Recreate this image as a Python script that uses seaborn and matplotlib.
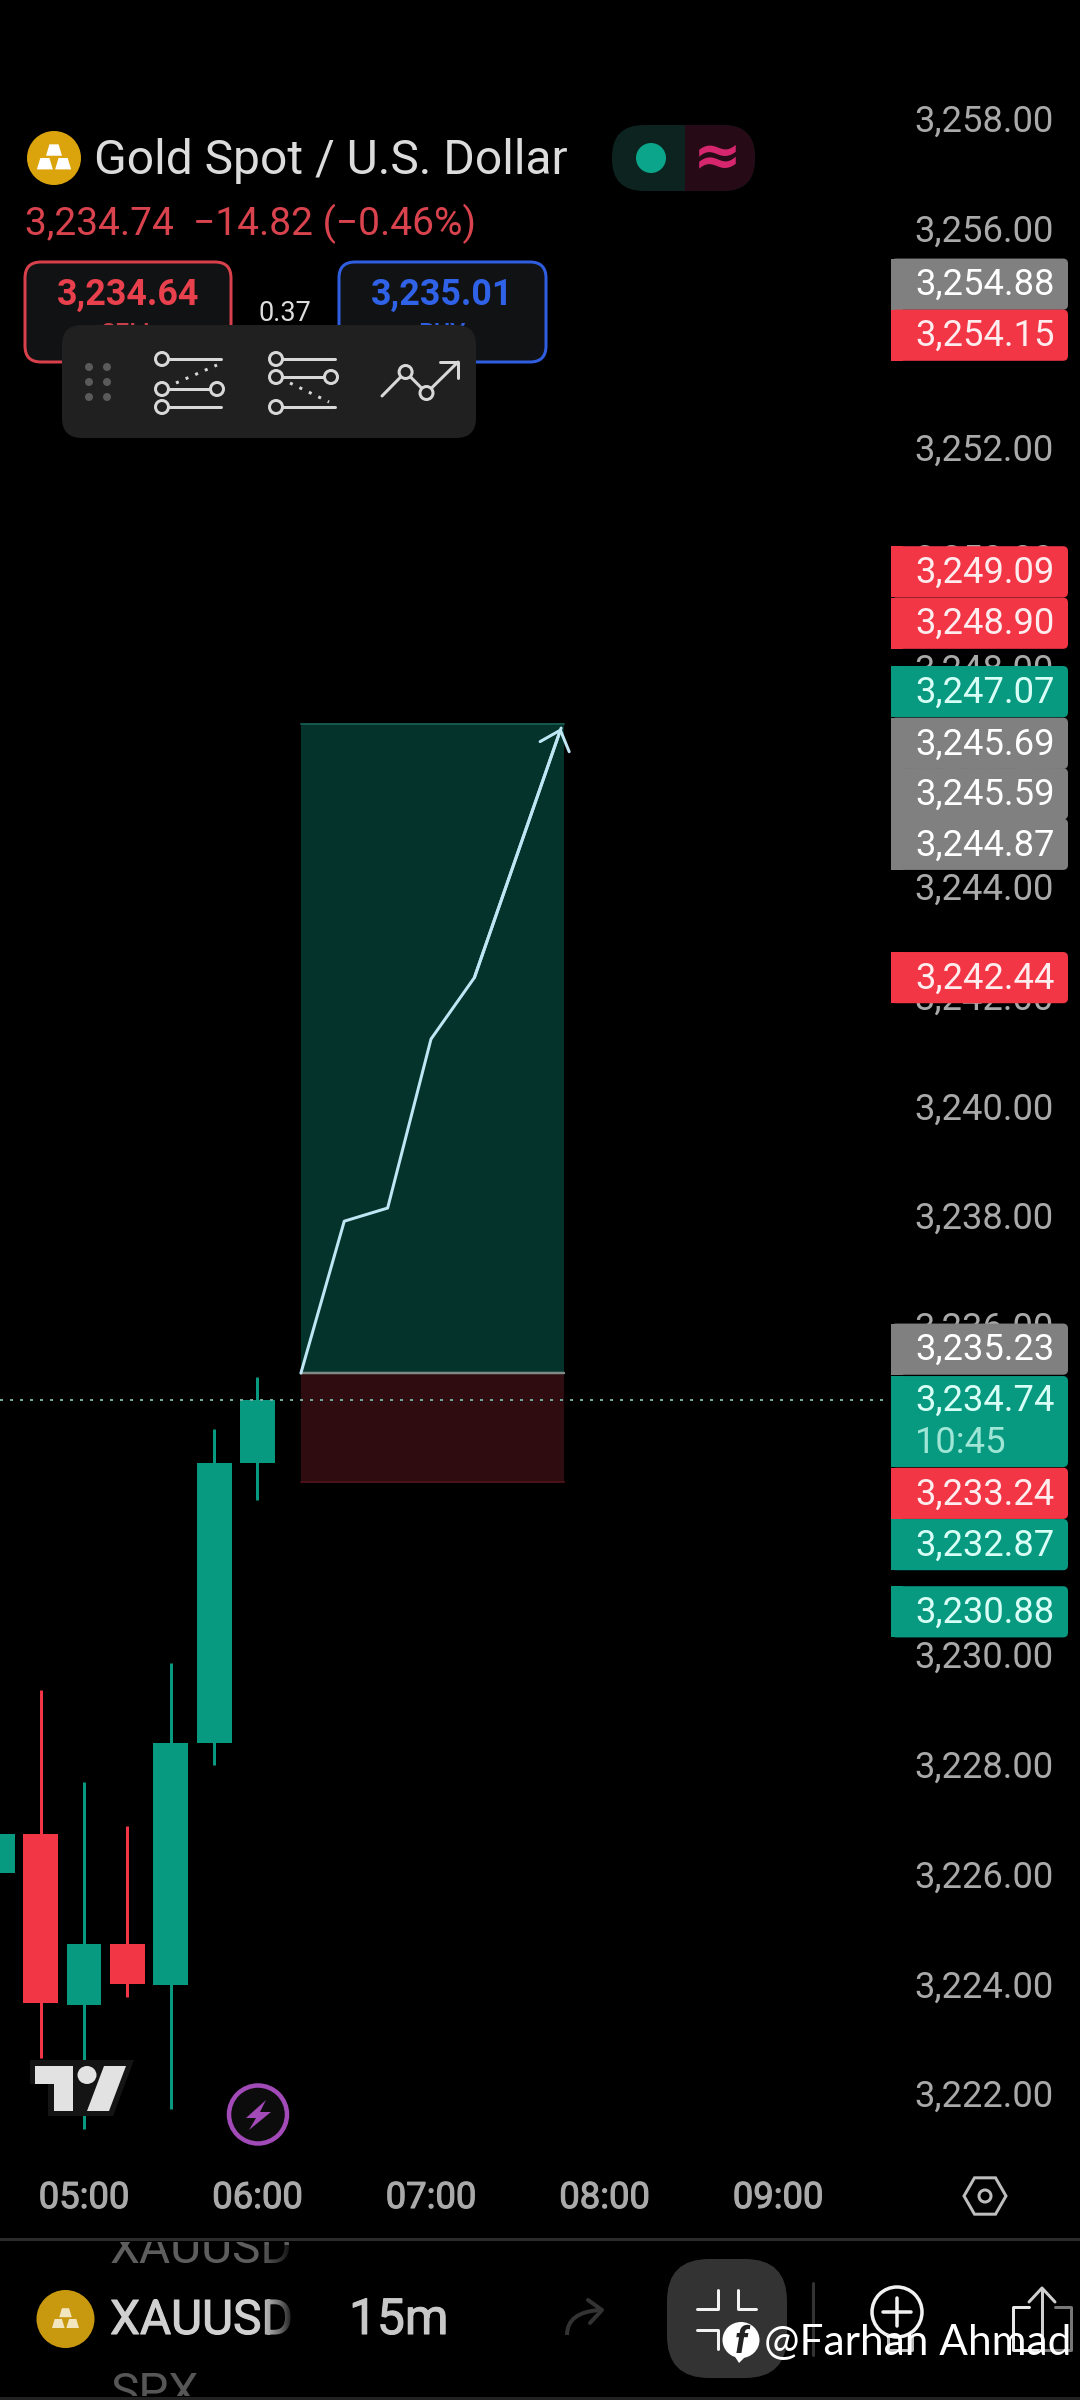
# Gold spot 15m chart screenshot, candles + long position tool
import numpy as np
import pandas as pd
import matplotlib
matplotlib.use("Agg")
import matplotlib.pyplot as plt
import matplotlib.patheffects as pe
import seaborn as sns
from matplotlib.patches import Circle, Ellipse, FancyBboxPatch, Polygon, Rectangle, PathPatch
from matplotlib.path import Path
from matplotlib.transforms import ScaledTranslation

# ---- data ----
candle_times = ["04:30", "04:45", "05:00", "05:15", "05:30", "05:45", "06:00"]
candle_open = [3226.11, 3226.83, 3223.72, 3224.82, 3224.07, 3228.49, 3233.60]
candle_close = [3226.83, 3223.75, 3224.82, 3224.10, 3228.49, 3233.60, 3234.74]
candle_high = [3226.83, 3229.45, 3227.77, 3226.97, 3229.95, 3234.21, 3235.16]
candle_low = [3226.11, 3222.75, 3221.45, 3223.85, 3221.82, 3228.08, 3232.91]

last_price = 3234.74
entry_price = 3235.23
target_price = 3247.07
stop_price = 3233.24
tool_start = "06:15"
tool_end = "07:46"

path_times = ["06:15", "06:30", "06:45", "07:00", "07:15", "07:45"]
path_prices = [3235.23, 3238.00, 3238.24, 3241.32, 3242.44, 3246.99]

price_ticks = [3258, 3256, 3254, 3252, 3250, 3248, 3246, 3244, 3242, 3240, 3238,
               3236, 3234, 3232, 3230, 3228, 3226, 3224, 3222]
time_ticks = ["05:00", "06:00", "07:00", "08:00", "09:00"]

label_prices = [3254.88, 3254.15, 3249.09, 3248.90, 3247.07, 3245.69, 3245.59,
                3244.87, 3242.44, 3235.23, 3233.24, 3232.87, 3230.88]
label_kinds = ["grey", "red", "red", "red", "green", "grey", "grey",
               "grey", "red", "grey", "red", "green", "green"]
# how far the app pushed each label away from its price so they stack (pixels)
label_nudges = [-11, 0, -41, 0, -32, -56, -11, 0, 0, -24, 11, 42, 0]

# ---- colours ----
GREEN = "#089981"
RED = "#F23645"
GREY = "#808080"
BOX_COLORS = {"green": GREEN, "red": RED, "grey": GREY}
BOX_TEXT = {"green": "#d8fff6", "red": "#ffecee", "grey": "#ffffff"}
TICK_GREY = "#a9a9a9"

W, H = 1080, 2400
DPI = 100
PX = 72 / DPI  # one pixel in points

# pixel layout of the price chart
AX_RIGHT, AX_BOTTOM = 890, 2155
PX_PER_PRICE = 54.86
PX_PER_MIN = 173.5 / 60
Y_3258 = 124
X_0500 = 84


def minutes(t):
    h, m = t.split(":")
    return int(h) * 60 + int(m)


def price_px(p):
    return Y_3258 + (3258 - p) * PX_PER_PRICE


def thicker(art, w=0.8):
    # Roboto here has no medium cut, so fatten the regular one a little
    art.set_path_effects([pe.withStroke(linewidth=w, foreground=art.get_color())])
    return art


def candle_frames():
    rows_wick = []
    for i, t in enumerate(candle_times):
        kind = "up" if candle_close[i] >= candle_open[i] else "down"
        rows_wick += [(i, minutes(t), candle_low[i], kind), (i, minutes(t), candle_high[i], kind)]
    return pd.DataFrame(rows_wick, columns=["candle", "minute", "price", "kind"])


def draw_chart(ax):
    xmin = 300 - X_0500 / PX_PER_MIN
    xmax = xmin + AX_RIGHT / PX_PER_MIN
    ymax = 3258 + Y_3258 / PX_PER_PRICE
    ymin = ymax - AX_BOTTOM / PX_PER_PRICE

    palette = {"up": GREEN, "down": RED}

    # position tool zones
    x0, x1 = minutes(tool_start), minutes(tool_end)
    ax.fill_between([x0, x1], entry_price, target_price, color="#04332B", lw=0, zorder=1)
    ax.fill_between([x0, x1], stop_price, entry_price, color="#2E0C0F", lw=0, zorder=1)
    sns.lineplot(x=[x0, x1], y=[target_price] * 2, color="#14564A", lw=2 * PX, ax=ax, zorder=1.2)
    sns.lineplot(x=[x0, x1], y=[stop_price] * 2, color="#4A1218", lw=2 * PX, ax=ax, zorder=1.2)
    sns.lineplot(x=[x0, x1], y=[entry_price] * 2, color="#7E8C88", lw=2.5 * PX, ax=ax, zorder=1.3)

    sns.lineplot(data=candle_frames(), x="minute", y="price", units="candle", estimator=None,
                 hue="kind", palette=palette, lw=3 * PX, legend=False, ax=ax,
                 solid_capstyle="butt", zorder=2)
    # bars, because agg drops a thick line whose centre is off the canvas (04:30 candle)
    body_x = [minutes(t) for t in candle_times]
    body_low = [min(o, c) for o, c in zip(candle_open, candle_close)]
    body_h = [abs(c - o) for o, c in zip(candle_open, candle_close)]
    body_col = [GREEN if c >= o else RED for o, c in zip(candle_open, candle_close)]
    ax.bar(body_x, body_h, bottom=body_low, width=35 / PX_PER_MIN, color=body_col, lw=0, zorder=2.1)

    # current price line
    sns.lineplot(x=[xmin, xmax], y=[last_price] * 2, color="#6FA89C", lw=2 * PX, ax=ax,
                 dashes=(1.5, 3.5), zorder=2.2)

    # forecast path with arrow head
    path_x = [minutes(t) for t in path_times]
    sns.lineplot(x=path_x, y=path_prices, color="#BFE6F4", lw=3 * PX, ax=ax, zorder=3,
                 estimator=None, sort=False)
    ax.annotate("", xy=(path_x[-1], path_prices[-1]), xytext=(path_x[-2], path_prices[-2]),
                arrowprops=dict(arrowstyle="->,head_length=1.26,head_width=1.11", mutation_scale=10,
                                color="#BFE6F4", lw=3 * PX, shrinkA=0, shrinkB=0), zorder=3)

    ax.set_xlim(xmin, xmax)
    ax.set_ylim(ymin, ymax)
    ax.set_xlabel("")
    ax.set_ylabel("")
    ax.set_yticks(price_ticks)
    ax.set_yticklabels([f"{p:,.2f}" for p in price_ticks])
    ax.set_xticks([minutes(t) for t in time_ticks])
    ax.set_xticklabels(time_ticks)
    ax.yaxis.tick_right()
    ax.tick_params(axis="y", length=0, pad=24 * PX, labelsize=26.2, labelcolor=TICK_GREY)
    ax.tick_params(axis="x", length=0, pad=25 * PX, labelsize=26.2, labelcolor=TICK_GREY)
    shift = ScaledTranslation(0, 6 * PX / 72, ax.figure.dpi_scale_trans)
    for lab in ax.get_yticklabels():
        lab.set_transform(lab.get_transform() + shift)
    for lab in ax.get_xticklabels():
        thicker(lab)
    ax.grid(False)
    sns.despine(ax=ax, left=True, bottom=True, right=True, top=True)


def round_box(ax, x0, y0, x1, y1, r, fc, ec="none", lw=0, z=2):
    ax.add_patch(FancyBboxPatch((x0 + r, y0 + r), x1 - x0 - 2 * r, y1 - y0 - 2 * r,
                                boxstyle=f"round,pad={r},rounding_size={r}", fc=fc, ec=ec, lw=lw, zorder=z))


def draw_price_labels(ui):
    x0, x1, tx = 891, 1068, 915

    def box(y0, y1, color):
        round_box(ui, x0, y0, x1, y1, 5, color, z=2)
        ui.add_patch(Rectangle((x0, y0), 12, y1 - y0, fc=color, ec="none", zorder=2))

    for price, kind, nudge in zip(label_prices, label_kinds, label_nudges):
        yc = price_px(price) + nudge
        box(yc - 25.6, yc + 25.6, BOX_COLORS[kind])
        ui.text(tx, yc - 3, f"{price:,.2f}", ha="left", va="center_baseline",
                fontsize=26.2, color=BOX_TEXT[kind], zorder=3)

    # last price with countdown
    ylast = price_px(last_price)
    box(ylast - 24, ylast + 67, GREEN)
    ui.text(tx, ylast - 3, f"{last_price:,.2f}", ha="left", va="center_baseline",
            fontsize=26.2, color=BOX_TEXT["green"], zorder=3)
    ui.text(tx, ylast + 39, "10:45", ha="left", va="center_baseline",
            fontsize=26.2, color="#9FE6D6", zorder=3)


def poly(ax, pts, z=4, **kw):
    ax.add_patch(Polygon(pts, closed=True, zorder=z, **kw))


def draw_line(ax, xs, ys, color="#D8D8D8", lw=3, z=5, **kw):
    ax.plot(xs, ys, color=color, lw=lw * PX, zorder=z, **kw)


def gold_bars(ax, cx, cy, s, color):
    for dx, dy in [(0, -0.42), (-0.48, 0.3), (0.48, 0.3)]:
        bx, by = cx + dx * s, cy + dy * s
        poly(ax, [(bx - 0.42 * s, by + 0.3 * s), (bx - 0.24 * s, by - 0.3 * s),
                  (bx + 0.24 * s, by - 0.3 * s), (bx + 0.42 * s, by + 0.3 * s)], fc=color, ec="none", z=6)


def draw_header(ui):
    # title row
    ui.add_patch(Circle((54, 158), 27, fc="#DBA40D", ec="none", zorder=3))
    gold_bars(ui, 54, 158, 19, "#FFFFFF")
    ui.text(94, 174, "Gold Spot / U.S. Dollar", fontsize=34.6, color="#DCDCDC", va="baseline")

    # market status pill
    pill = FancyBboxPatch((612 + 32, 125 + 32), 143 - 64, 66 - 64,
                          boxstyle="round,pad=32,rounding_size=32", fc="#0C2320", ec="none", zorder=2)
    ui.add_patch(pill)
    right_half = Rectangle((685, 120), 80, 80, fc="#260A16", ec="none", zorder=2.1)
    ui.add_patch(right_half)
    right_half.set_clip_path(pill.get_path(), pill.get_transform())
    ui.add_patch(Circle((651, 158), 15, fc="#0AA58A", ec="none", zorder=3))
    ui.text(717, 158, "≈", fontsize=42, color="#D6276E", ha="center", va="center", weight="bold",
            family=["DejaVu Sans"], zorder=3)

    # quote row
    ui.text(25, 235, "3,234.74  −14.82 (−0.46%)", fontsize=28, color="#D8434E", va="baseline")

    # sell / buy buttons
    round_box(ui, 25, 262, 231, 362, 16, "#111214", ec="#D8404C", lw=3 * PX)
    round_box(ui, 339, 262, 546, 362, 16, "#111214", ec="#2F5FE0", lw=3 * PX)
    ui.text(128, 305, "3,234.64", fontsize=25.8, color="#E8404C", ha="center", weight="bold")
    ui.text(442, 305, "3,235.01", fontsize=25.8, color="#2F62E6", ha="center", weight="bold")
    ui.text(128, 342, "SELL", fontsize=18, color="#C8404C", ha="center", weight="medium")
    ui.text(442, 342, "BUY", fontsize=18, color="#2F5FE0", ha="center", weight="medium")
    ui.text(285, 321, "0.37", fontsize=19.5, color="#DDDDDD", ha="center")

    # floating drawing toolbar
    round_box(ui, 62, 325, 476, 438, 20, "#202020", z=4)
    for x in (89, 107):
        for y in (367, 382, 397):
            ui.add_patch(Circle((x, y), 4, fc="#5A5A5A", ec="none", zorder=5))

    def node(x, y):
        ui.add_patch(Circle((x, y), 6.5, fc="#202020", ec="#D8D8D8", lw=3 * PX, zorder=6))

    # long position icon
    draw_line(ui, [162, 221], [359, 359])
    draw_line(ui, [162, 217], [389, 389])
    draw_line(ui, [162, 221], [407, 407])
    draw_line(ui, [176, 217], [383, 365], ls=(0, (1, 2.5)))
    for x, y in [(162, 359), (162, 389), (217, 389), (162, 407)]:
        node(x, y)
    # short position icon
    draw_line(ui, [276, 335], [359, 359])
    draw_line(ui, [276, 331], [377, 377])
    draw_line(ui, [276, 335], [407, 407])
    draw_line(ui, [290, 329], [383, 402], ls=(0, (1, 2.5)))
    for x, y in [(276, 359), (276, 377), (331, 377), (276, 407)]:
        node(x, y)
    # forecast icon
    draw_line(ui, [382, 405.6, 426.5, 458], [396, 372, 393, 362])
    draw_line(ui, [440, 458, 458], [362, 362, 378])
    node(405.6, 372)
    node(426.5, 393)


def draw_badges(ui):
    # TradingView logo
    poly(ui, [(30, 2060), (134, 2060), (113, 2116), (48, 2116), (48, 2084), (30, 2084)], fc="#141414", ec="none")
    T = [(35, 2066), (73, 2066), (73, 2111), (54, 2111), (54, 2084), (35, 2084)]
    slash = [(104, 2066), (126, 2066), (109, 2111), (87, 2111)]
    poly(ui, T, fc="#E2E2E2", ec="none", z=5)
    poly(ui, slash, fc="#E2E2E2", ec="none", z=5)
    ui.add_patch(Ellipse((87, 2075), 19, 18, fc="#E2E2E2", ec="none", zorder=5))

    # lightning badge
    ui.add_patch(Circle((258, 2114.5), 29, fc="#0C0C0C", ec="#A24AB8", lw=4.5 * PX, zorder=4))
    poly(ui, [(266, 2100), (246, 2118), (256, 2118), (249, 2130), (271, 2112), (260, 2112)], fc="#A24AB8", ec="none", z=5)


def draw_footer(ui):
    # settings hexagon
    ang = np.deg2rad([0, 60, 120, 180, 240, 300])
    poly(ui, list(zip(985 + 21 * np.cos(ang), 2196 + 21 * np.sin(ang))), fc="none", ec="#BDBDBD", lw=3 * PX)
    ui.add_patch(Circle((985, 2196), 6, fc="none", ec="#BDBDBD", lw=3 * PX, zorder=4))

    draw_line(ui, [0, W], [2239, 2239], color="#2B2B2B", lw=3)
    draw_line(ui, [0, W], [2398, 2398], color="#222222", lw=3)

    # symbol carousel, neighbours clipped by the bar
    clip = Rectangle((0, 2242), 620, 154, transform=ui.transData)
    for y, txt, col in [(2263, "XAUUSD", "#5E5E5E"), (2407, "SPX", "#565656")]:
        neighbour = ui.text(110, y, txt, fontsize=34.4, color=col, va="baseline", clip_on=True)
        neighbour.set_clip_path(clip)
    ui.add_patch(Circle((65.5, 2319), 29, fc="#C8980F", ec="none", zorder=3))
    gold_bars(ui, 65.5, 2319, 15, "#F2E6C0")
    thicker(ui.text(110, 2334, "XAUUSD", fontsize=34.4, color="#D0D0D0", va="baseline"))
    fade = np.zeros((1, 60, 4))
    fade[..., 3] = np.linspace(0, 1, 60) ** 1.4
    ui.imshow(fade, extent=(256, 296, 2390, 2245), aspect="auto", zorder=3.5)
    thicker(ui.text(349, 2334, "15m", fontsize=35.8, color="#C8C8C8", va="baseline"))

    # redo arrow
    redo = Path([(567, 2335), (567, 2312), (600, 2310)], [Path.MOVETO, Path.CURVE3, Path.CURVE3])
    ui.add_patch(PathPatch(redo, fc="none", ec="#333333", lw=4 * PX, zorder=4))
    draw_line(ui, [588, 602, 590], [2300, 2310, 2323], color="#333333", lw=4)

    # collapse button
    round_box(ui, 667, 2259, 787, 2378, 42, "#333333", z=3)
    draw_line(ui, [697, 718, 718], [2309, 2309, 2290], color="#F2F2F2")
    draw_line(ui, [738, 738, 756], [2290, 2309, 2309], color="#F2F2F2")
    draw_line(ui, [697, 718, 718], [2330, 2330, 2349], color="#F2F2F2")
    draw_line(ui, [812.5, 812.5], [2283, 2355], color="#333333")

    # add and share icons
    ui.add_patch(Circle((897, 2312), 25, fc="none", ec="#F2F2F2", lw=3.5 * PX, zorder=4))
    draw_line(ui, [883, 911], [2312, 2312], color="#F2F2F2", lw=3.5)
    draw_line(ui, [897, 897], [2298, 2326], color="#F2F2F2", lw=3.5)
    draw_line(ui, [888, 888, 912, 912], [2335, 2350, 2350, 2335], color="#BBBBBB", lw=3)
    draw_line(ui, [1029, 1013, 1013, 1040], [2307, 2307, 2350, 2350], color="#E8E8E8")
    draw_line(ui, [1040, 1071, 1071, 1055], [2350, 2350, 2307, 2307], color="#777777")
    draw_line(ui, [1042, 1042], [2289, 2350], color="#CFCFCF")
    draw_line(ui, [1029, 1042, 1055], [2302, 2288, 2302], color="#CFCFCF")

    # watermark
    ui.add_patch(Ellipse((741, 2340), 37, 36, fc="#FFFFFF", ec="none", zorder=7))
    poly(ui, [(732, 2352), (748, 2354), (739, 2363)], fc="#FFFFFF", ec="none", z=7)
    ui.text(741, 2353, "f", fontsize=26, color="#222222", ha="center", va="baseline",
            weight="bold", style="italic", zorder=8)
    ui.text(764, 2355, "@Farhan Ahmad", fontsize=30.5, color="#FFFFFF", family=["Lato"],
            va="baseline", zorder=8)


def main():
    sns.set_theme(style="dark", rc={"figure.facecolor": "black", "axes.facecolor": "black",
                                    "savefig.facecolor": "black", "axes.edgecolor": "black"})
    plt.rcParams["font.family"] = ["Roboto", "DejaVu Sans"]

    fig = plt.figure(figsize=(W / DPI, H / DPI), dpi=DPI)
    ax = fig.add_axes([0, 1 - AX_BOTTOM / H, AX_RIGHT / W, AX_BOTTOM / H])
    draw_chart(ax)

    # screen furniture drawn in pixel coordinates
    ui = fig.add_axes([0, 0, 1, 1], facecolor="none", zorder=10)
    ui.set_xlim(0, W)
    ui.set_ylim(H, 0)
    ui.axis("off")
    draw_price_labels(ui)
    draw_header(ui)
    draw_badges(ui)
    draw_footer(ui)
    ui.set_xlim(0, W)
    ui.set_ylim(H, 0)

    fig.savefig("out.png", dpi=DPI)
    plt.close(fig)


if __name__ == "__main__":
    main()
